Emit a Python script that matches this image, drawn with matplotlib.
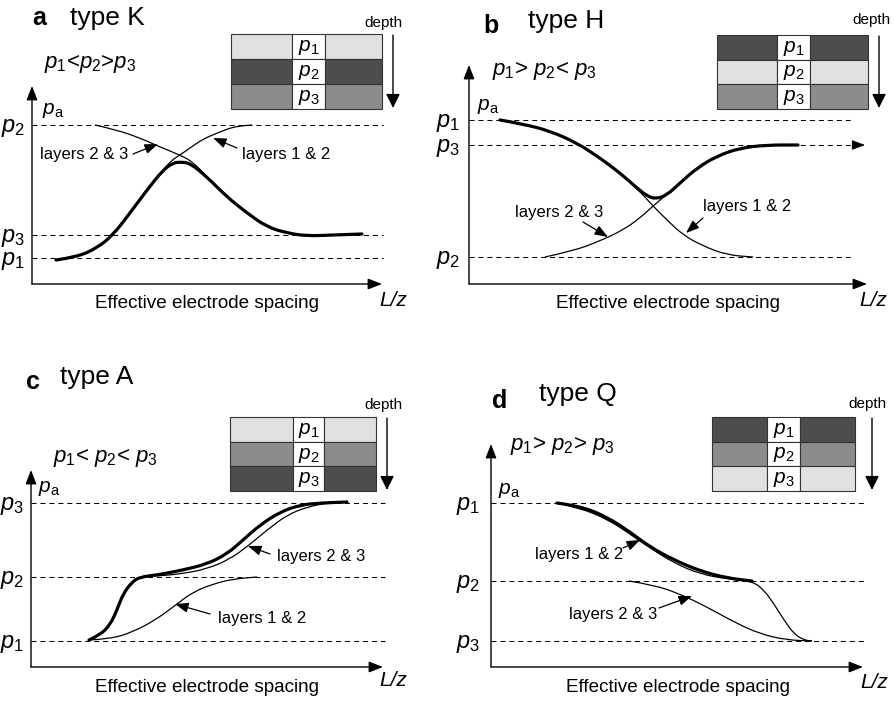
import matplotlib
matplotlib.use('Agg')
import matplotlib.pyplot as plt
from matplotlib.patches import Rectangle, PathPatch
from matplotlib.path import Path

plt.rcParams['font.family'] = 'Liberation Sans'
plt.rcParams['mathtext.fontset'] = 'custom'
plt.rcParams['mathtext.rm'] = 'Liberation Sans'
plt.rcParams['mathtext.it'] = 'Liberation Sans:italic'

# ---- panel a: type K (p1 < p2 > p3) ----
a_levels = [159, 49, 26]
a_level_labels = ['$p_2$', '$p_3$', '$p_1$']
a_shades = ['#e0e0e0', '#4d4d4d', '#8c8c8c']
a_rho_x = [24, 45, 65, 81, 98, 115, 131, 141, 148, 158, 175, 195, 215, 235, 255, 275, 301, 330]
a_rho_y = [24, 27, 36, 49, 71, 94, 114, 121, 122, 121, 107, 87, 71, 57, 51, 48, 49, 50]
a_l12_x = [24, 45, 65, 81, 98, 115, 131, 140, 148, 158, 168, 178, 188, 198, 208, 220]
a_l12_y = [24, 27, 36, 49, 71, 94, 114, 124, 129, 136, 143, 148, 152, 156, 158, 159]
a_l23_x = [63, 85, 108, 128, 148, 161, 175, 195, 215, 235, 255, 275, 301, 330]
a_l23_y = [159, 154, 146, 137, 129, 122, 107, 87, 71, 57, 51, 48, 49, 50]

# ---- panel b: type H (p1 > p2 < p3) ----
b_levels = [164, 139, 27]
b_level_labels = ['$p_1$', '$p_3$', '$p_2$']
b_shades = ['#4d4d4d', '#e0e0e0', '#8c8c8c']
b_rho_x = [31, 54, 81, 108, 131, 151, 168, 178, 187, 198, 211, 228, 248, 271, 298, 329]
b_rho_y = [164, 160, 153, 141, 126, 111, 96, 88, 85, 89, 101, 116, 128, 136, 139, 139]
b_l12_x = [31, 54, 81, 108, 131, 151, 168, 176, 184, 198, 214, 234, 258, 284]
b_l12_y = [164, 160, 153, 141, 126, 111, 95, 87, 78, 64, 49, 38, 29, 27]
b_l23_x = [76, 104, 131, 154, 171, 184, 196, 211, 228, 248, 271, 298, 329]
b_l23_y = [27, 33, 43, 54, 66, 78, 88, 101, 116, 128, 136, 139, 139]

# ---- panel c: type A (p1 < p2 < p3) ----
c_levels = [164, 90, 26]
c_level_labels = ['$p_3$', '$p_2$', '$p_1$']
c_shades = ['#e0e0e0', '#8c8c8c', '#4d4d4d']
c_rho_x = [58, 69, 79, 86, 92, 101, 109, 126, 152, 176, 196, 212, 229, 249, 269, 289, 316]
c_rho_y = [27, 32, 42, 57, 73, 85, 90, 92, 97, 103, 113, 127, 142, 155, 162, 164, 165]
c_l23_x = [109, 126, 149, 176, 199, 217, 236, 256, 276, 296, 312]
c_l23_y = [90, 91, 93, 98, 108, 121, 137, 152, 160, 164, 165]
c_l12_x = [58, 79, 102, 126, 146, 162, 182, 202, 226]
c_l12_y = [27, 28, 35, 48, 63, 75, 83, 88, 90]

# ---- panel d: type Q (p1 > p2 > p3) ----
d_levels = [164, 86, 26]
d_level_labels = ['$p_1$', '$p_2$', '$p_3$']
d_shades = ['#4d4d4d', '#8c8c8c', '#e0e0e0']
d_rho_x = [66, 89, 116, 139, 159, 183, 209, 236, 261]
d_rho_y = [164, 161, 150, 135, 120, 107, 96, 89, 86]
d_l12_x = [66, 89, 116, 139, 159, 183, 209, 236, 261, 273, 283, 293, 303, 313, 321]
d_l12_y = [164, 159, 148, 133, 119, 104, 93, 88, 86, 77, 63, 47, 33, 27, 26]
d_l23_x = [138, 163, 189, 216, 243, 269, 296, 321]
d_l23_y = [86, 82, 73, 60, 45, 33, 27, 26]

FIG_W, FIG_H = 894, 701
AXIS_ARROW = dict(arrowstyle='-|>,head_length=0.85,head_width=0.33', lw=1.0,
                  color='black', shrinkA=0, shrinkB=0, mutation_scale=10)
SMALL_ARROW = dict(arrowstyle='-|>,head_length=0.8,head_width=0.3', lw=0.9,
                   color='black', shrinkA=0, shrinkB=0, mutation_scale=10)

fig = plt.figure(figsize=(FIG_W / 100, FIG_H / 100), dpi=100)


def add_panel(x0, y0, w, h):
    # x0, y0: pixel position of the axes origin; w, h: arrow lengths
    ax = fig.add_axes([x0 / FIG_W, (FIG_H - y0) / FIG_H, w / FIG_W, h / FIG_H])
    ax.set_xlim(0, w)
    ax.set_ylim(0, h)
    ax.axis('off')
    ax.annotate('', xy=(w, 0), xytext=(0, 0), arrowprops=AXIS_ARROW, annotation_clip=False)
    ax.annotate('', xy=(0, h), xytext=(0, 0), arrowprops=AXIS_ARROW, annotation_clip=False)
    return ax


def draw_levels(ax, levels, labels, x_end, label_x):
    ax.hlines(levels, 0, x_end, colors='black', lw=0.75,
              linestyles=(0, (4.8, 3.8)), clip_on=False)
    for lev, lab in zip(levels, labels):
        ax.text(label_x, lev - 3, lab, fontsize=17, ha='right', va='center')


def curve_path(xs, ys):
    # quadratic pieces through the read points so the sketch stays smooth
    pts = list(zip(xs, ys))
    verts, codes = [pts[0]], [Path.MOVETO]
    for i in range(1, len(pts) - 1):
        mid = ((pts[i][0] + pts[i + 1][0]) / 2, (pts[i][1] + pts[i + 1][1]) / 2)
        verts += [pts[i], mid]
        codes += [Path.CURVE3, Path.CURVE3]
    verts.append(pts[-1])
    codes.append(Path.LINETO)
    return Path(verts, codes)


def draw_curves(ax, thick, thins):
    for xs, ys in thins:
        ax.add_patch(PathPatch(curve_path(xs, ys), fill=False, edgecolor='black',
                               lw=0.9, clip_on=False))
    ax.add_patch(PathPatch(curve_path(*thick), fill=False, edgecolor='black', lw=2.3,
                           capstyle='round', joinstyle='round', clip_on=False))


def draw_column(ax, left, right, bottom, top, wl, wr, shades, depth_x, depth_label):
    row_h = (top - bottom) / 3
    for i, shade in enumerate(shades):
        yb = top - (i + 1) * row_h
        for xa, xb, fc in [(left, wl, shade), (wl, wr, 'white'), (wr, right, shade)]:
            ax.add_patch(Rectangle((xa, yb), xb - xa, row_h, facecolor=fc,
                                   edgecolor='#333333', lw=0.8, clip_on=False))
        ax.text((wl + wr) / 2, yb + row_h / 2 - 1, f'$p_{i + 1}$', fontsize=15,
                ha='center', va='center')
    ax.annotate('', xy=(depth_x, bottom + 1), xytext=(depth_x, top - 1),
                arrowprops=dict(AXIS_ARROW, arrowstyle='-|>,head_length=0.85,head_width=0.42'),
                annotation_clip=False)
    ax.text(depth_label[0], depth_label[1], 'depth', fontsize=11, ha='center', va='center')


def layer_note(ax, text, tx, ty, start, end):
    ax.text(tx, ty, text, fontsize=12, ha='left', va='center')
    ax.annotate('', xy=end, xytext=start, arrowprops=SMALL_ARROW, annotation_clip=False)


def bottom_labels(ax, cx, cy, lx, ly):
    ax.text(cx, cy, 'Effective electrode spacing', fontsize=13.6, ha='center', va='center')
    ax.text(lx, ly, 'L/z', fontsize=15, style='italic', ha='center', va='center')


# panel a
ax = add_panel(32, 284, 350, 198)
ax.text(0, 259, 'a', fontsize=18, fontweight='bold')
ax.text(38, 259, 'type K', fontsize=19)
ax.text(12, 216, '$p_1$<$p_2$>$p_3$', fontsize=16)
ax.text(21, 173, r'$p_\mathrm{a}$', fontsize=15, ha='center', va='center')
draw_levels(ax, a_levels, a_level_labels, 351, -7)
draw_curves(ax, (a_rho_x, a_rho_y), [(a_l12_x, a_l12_y), (a_l23_x, a_l23_y)])
draw_column(ax, 199, 350, 175, 250, 260, 293, a_shades, 361, (351, 261))
layer_note(ax, 'layers 2 & 3', 8, 129, (101, 130), (126, 140))
layer_note(ax, 'layers 1 & 2', 210, 130, (205, 136), (181, 146))
bottom_labels(ax, 175, -19, 361, -16)

# panel b
ax = add_panel(469, 284, 398, 219)
ax.text(14, 251, 'b', fontsize=18, fontweight='bold')
ax.text(59, 256, 'type H', fontsize=19)
ax.text(23, 209, '$p_1$> $p_2$< $p_3$', fontsize=16)
ax.text(19, 178, r'$p_\mathrm{a}$', fontsize=15, ha='center', va='center')
draw_levels(ax, b_levels, b_level_labels, 382, -9)
ax.annotate('', xy=(396, b_levels[1]), xytext=(384, b_levels[1]),
            arrowprops=dict(SMALL_ARROW, lw=0.75), annotation_clip=False)
draw_curves(ax, (b_rho_x, b_rho_y), [(b_l12_x, b_l12_y), (b_l23_x, b_l23_y)])
draw_column(ax, 248, 399, 175, 249, 308, 341, b_shades, 410, (402, 264))
layer_note(ax, 'layers 2 & 3', 46, 71, (114, 62), (139, 47))
layer_note(ax, 'layers 1 & 2', 234, 77, (234, 66), (217, 51))
bottom_labels(ax, 199, -19, 404, -17)

# panel c
ax = add_panel(31, 667, 352, 197)
ax.text(-5, 278, 'c', fontsize=18, fontweight='bold')
ax.text(29, 283, 'type A', fontsize=19)
ax.text(22, 205, '$p_1$< $p_2$< $p_3$', fontsize=16)
ax.text(18, 178, r'$p_\mathrm{a}$', fontsize=15, ha='center', va='center')
draw_levels(ax, c_levels, c_level_labels, 354, -7)
draw_curves(ax, (c_rho_x, c_rho_y), [(c_l12_x, c_l12_y), (c_l23_x, c_l23_y)])
draw_column(ax, 199, 345, 176, 250, 262, 293, c_shades, 356, (352, 262))
layer_note(ax, 'layers 2 & 3', 246, 110, (239, 113), (217, 121))
layer_note(ax, 'layers 1 & 2', 187, 48, (179, 53), (144, 63))
bottom_labels(ax, 176, -20, 362, -13)

# panel d
ax = add_panel(491, 667, 372, 223)
ax.text(1, 259, 'd', fontsize=18, fontweight='bold')
ax.text(48, 266, 'type Q', fontsize=19)
ax.text(19, 217, '$p_1$> $p_2$> $p_3$', fontsize=16)
ax.text(18, 177, r'$p_\mathrm{a}$', fontsize=15, ha='center', va='center')
draw_levels(ax, d_levels, d_level_labels, 376, -11)
draw_curves(ax, (d_rho_x, d_rho_y), [(d_l12_x, d_l12_y), (d_l23_x, d_l23_y)])
draw_column(ax, 221, 364, 176, 250, 276, 309, d_shades, 381, (376, 263))
layer_note(ax, 'layers 1 & 2', 44, 113, (132, 119), (149, 127))
layer_note(ax, 'layers 2 & 3', 78, 53, (168, 59), (201, 71))
bottom_labels(ax, 187, -20, 383, -15)

fig.savefig('out.png', dpi=100)
